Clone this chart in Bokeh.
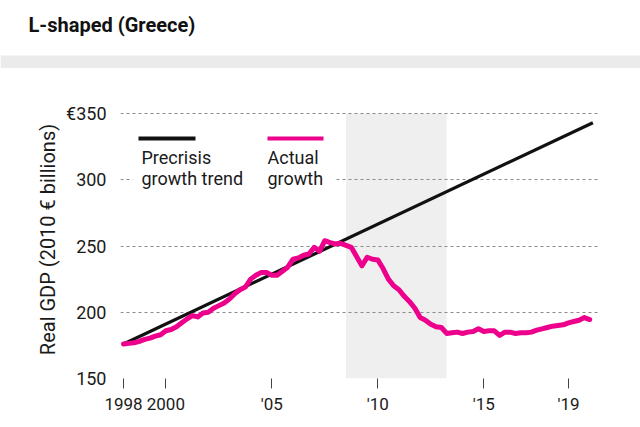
from bokeh.plotting import figure
from bokeh.models import Label, FixedTicker, Range1d
from bokeh.layouts import column
from bokeh.core.properties import value
from bokeh.embed import file_html
from bokeh.resources import INLINE

# ---------------- data ----------------
start_year = 1998.0
actual_growth = [
    176.0, 176.5, 177.0, 178.0, 179.5, 180.5, 182.0, 183.0,   # 1998-1999
    186.0, 187.0, 189.0, 192.0, 195.0, 197.5, 196.5, 199.5,   # 2000-2001
    200.0, 203.0, 205.0, 207.0, 210.0, 214.0, 217.0, 219.0,   # 2002-2003
    225.0, 228.0, 230.0, 230.0, 228.0, 228.0, 231.0, 234.0,   # 2004-2005
    240.0, 241.0, 243.0, 244.0, 249.0, 246.0, 254.0, 252.5,   # 2006-2007
    251.5, 252.0, 250.5, 249.0, 242.0, 235.0, 241.5, 240.0,   # 2008-2009
    239.5, 233.0, 225.0, 220.0, 217.0, 212.0, 208.0, 203.0,   # 2010-2011
    196.0, 194.0, 191.0, 189.0, 188.5, 184.0, 184.5, 185.0,   # 2012-2013
    184.0, 185.0, 185.5, 187.5, 185.5, 186.0, 186.0, 182.5,   # 2014-2015
    185.0, 185.0, 184.0, 184.5, 184.5, 185.0, 186.5, 187.5,   # 2016-2017
    188.5, 189.5, 190.0, 190.5, 192.0, 193.0, 194.0, 196.0,   # 2018-2019
    194.5,                                                    # 2020
]
quarters = [start_year + 0.25 * i for i in range(len(actual_growth))]

trend_years = [1998.0, 2020.15]
trend_values = [176.0, 343.0]

crisis_years = [2008.5, 2013.25]

y_ticks = [150, 200, 250, 300, 350]
y_tick_labels = ["150", "200", "250", "300", "€350"]
x_ticks = [1998, 2000, 2005, 2010, 2015, 2019]
x_tick_labels = ["1998", "2000", "'05", "'10", "'15", "'19"]

title_text = "L-shaped (Greece)"
y_label = "Real GDP (2010 € billions)"
legend_trend = ["Precrisis", "growth trend"]
legend_actual = ["Actual", "growth"]

# ---------------- layout ----------------
W, H = 640, 427
HEAD = 68                                   # height of the title strip
FL, FR, FT, FB = 120, 598, 100, 378          # frame edges in canvas px
PX_PER_YEAR = (568 - 123) / 21.0
PX_PER_UNIT = (378 - 113) / 200.0
X0 = 1998 - (123 - FL) / PX_PER_YEAR
X1 = 1998 + (FR - 123) / PX_PER_YEAR
Y0 = 150.0
Y1 = 150 + (FB - FT) / PX_PER_UNIT


def sx(px):
    return X0 + (px - FL) / PX_PER_YEAR


def sy(py):
    return Y0 + (FB - py) / PX_PER_UNIT


FONT = "Roboto"
TEXT = "#1a1a1a"
PINK = "#ec008c"


def no_align(fig):
    try:
        fig.frame_align = False
    except Exception:
        pass


# ---------- title strip ----------
head = figure(width=W, height=HEAD, x_range=Range1d(0, W), y_range=Range1d(HEAD, 0),
              output_backend="svg", toolbar_location=None,
              x_axis_type=None, y_axis_type=None,
              min_border=0, margin=(0, 0, 0, 0))
no_align(head)
head.outline_line_color = None
head.background_fill_color = "white"
head.border_fill_color = "white"
head.xgrid.visible = False
head.ygrid.visible = False
head.quad(left=[0], right=[W], top=[55], bottom=[68], fill_color="#ebebeb", line_color=None)
head.text(x=[28], y=[24], text=[title_text], text_baseline="middle", text_align="left",
          text_font=value(FONT), text_font_size="20px", text_font_style="bold",
          text_color="#111111")

# ---------- main chart ----------
p = figure(width=W, height=H - HEAD, x_range=Range1d(X0, X1), y_range=Range1d(Y0, Y1),
           output_backend="svg", toolbar_location=None,
           min_border_left=FL, min_border_right=W - FR,
           min_border_top=FT - HEAD, min_border_bottom=H - FB,
           margin=(0, 0, 0, 0))
no_align(p)
p.outline_line_color = None
p.background_fill_color = "white"
p.border_fill_color = "white"

# grid
p.xgrid.grid_line_color = None
p.ygrid.ticker = FixedTicker(ticks=y_ticks)
p.ygrid.grid_line_color = "#8a8a8a"
p.ygrid.grid_line_dash = "3 3"
p.ygrid.grid_line_width = 1

# y axis
p.yaxis.ticker = FixedTicker(ticks=y_ticks)
p.yaxis.major_label_overrides = {t: l for t, l in zip(y_ticks, y_tick_labels)}
p.yaxis.axis_line_color = None
p.yaxis.major_tick_line_color = None
p.yaxis.minor_tick_line_color = None
p.yaxis.major_label_standoff = 8
p.yaxis.major_label_text_font = FONT
p.yaxis.major_label_text_font_size = "18px"
p.yaxis.major_label_text_color = TEXT
p.yaxis.axis_label = y_label
p.yaxis.axis_label_text_font = FONT
p.yaxis.axis_label_text_font_size = "20px"
p.yaxis.axis_label_text_font_style = "normal"
p.yaxis.axis_label_text_color = TEXT
p.yaxis.axis_label_standoff = 3

# x axis
p.xaxis.ticker = FixedTicker(ticks=x_ticks)
p.xaxis.major_label_overrides = {t: l for t, l in zip(x_ticks, x_tick_labels)}
p.xaxis.axis_line_color = None
p.xaxis.minor_tick_line_color = None
p.xaxis.major_tick_in = 0
p.xaxis.major_tick_out = 10
p.xaxis.major_tick_line_color = "#444444"
p.xaxis.major_tick_line_width = 1
p.xaxis.major_label_standoff = 5
p.xaxis.major_label_text_font = FONT
p.xaxis.major_label_text_font_size = "17px"
p.xaxis.major_label_text_color = TEXT

# crisis shading
p.quad(left=[crisis_years[0]], right=[crisis_years[1]], bottom=[150], top=[350],
       fill_color="#efefef", line_color=None, level="image")

# lines
p.line(trend_years, trend_values, line_color="#111111", line_width=3.2)
p.line(quarters, actual_growth, line_color=PINK, line_width=5,
       line_join="round", line_cap="round")

# legend
p.quad(left=[sx(132)], right=[sx(334)], top=[sy(124)], bottom=[sy(192)],
       fill_color="white", line_color=None)
p.segment(x0=[sx(138)], x1=[sx(195)], y0=[sy(138)], y1=[sy(138)],
          line_color="#111111", line_width=4)
p.segment(x0=[sx(267)], x1=[sx(323)], y0=[sy(138)], y1=[sy(138)],
          line_color=PINK, line_width=4)
for i, t in enumerate(legend_trend):
    p.add_layout(Label(x=sx(141), y=sy(157 + 21 * i), text=t, text_baseline="middle",
                       text_font=FONT, text_font_size="18px", text_color=TEXT))
for i, t in enumerate(legend_actual):
    p.add_layout(Label(x=sx(267), y=sy(157 + 21 * i), text=t, text_baseline="middle",
                       text_font=FONT, text_font_size="18px", text_color=TEXT))

layout = column(head, p, spacing=0, margin=(0, 0, 0, 0))
open("out.html", "w").write(file_html(layout, INLINE))
